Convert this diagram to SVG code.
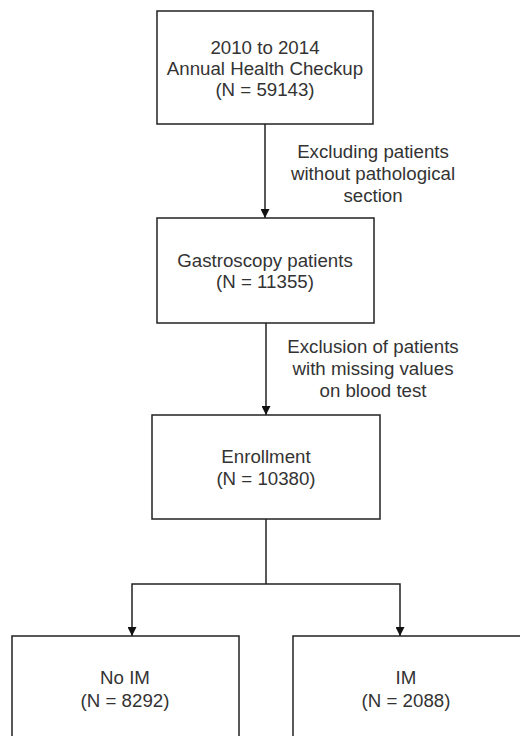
<svg xmlns="http://www.w3.org/2000/svg" width="520" height="736" viewBox="0 0 520 736">
<style>
.box{fill:#fff;stroke:#222;stroke-width:1.5}
.t{font-family:"Liberation Sans",Arial,sans-serif;font-size:18.7px;fill:#333;text-anchor:middle}
.c{fill:none;stroke:#222;stroke-width:1.5}
</style>
<defs>
<marker id="ah" viewBox="0 0 10 10" refX="10" refY="5" markerWidth="9" markerHeight="9" markerUnits="userSpaceOnUse" orient="auto">
<path d="M0,0 L10,5 L0,10 Z" fill="#111"/>
</marker>
</defs>
<rect width="520" height="736" fill="#fff"/>
<g id="connectors">
<line class="c" x1="265" y1="124" x2="265" y2="218" marker-end="url(#ah)"/>
<line class="c" x1="266" y1="323" x2="266" y2="415" marker-end="url(#ah)"/>
<polyline class="c" points="266,519 266,584"/>
<polyline class="c" points="266,584 132,584 132,636" marker-end="url(#ah)"/>
<polyline class="c" points="266,584 400,584 400,636" marker-end="url(#ah)"/>
<text class="t" x="373" y="158">Excluding patients</text>
<text class="t" x="373" y="180">without pathological</text>
<text class="t" x="373" y="202">section</text>
<text class="t" x="373" y="353">Exclusion of patients</text>
<text class="t" x="373" y="375">with missing values</text>
<text class="t" x="373" y="397">on blood test</text>
</g>
<g id="checkup">
<rect class="box" x="157" y="11" width="216" height="113"/>
<text class="t" x="265" y="54">2010 to 2014</text>
<text class="t" x="265" y="75">Annual Health Checkup</text>
<text class="t" x="265" y="96">(N = 59143)</text>
</g>
<g id="gastroscopy">
<rect class="box" x="157" y="218" width="217" height="105"/>
<text class="t" x="265" y="267">Gastroscopy patients</text>
<text class="t" x="265" y="288">(N = 11355)</text>
</g>
<g id="enrollment">
<rect class="box" x="152" y="415" width="228" height="104"/>
<text class="t" x="266" y="463">Enrollment</text>
<text class="t" x="266" y="485">(N = 10380)</text>
</g>
<g id="noim">
<rect class="box" x="12" y="636" width="227" height="110"/>
<text class="t" x="125" y="684">No IM</text>
<text class="t" x="125" y="707">(N = 8292)</text>
</g>
<g id="im">
<rect class="box" x="293" y="636" width="230" height="110"/>
<text class="t" x="406" y="684">IM</text>
<text class="t" x="406" y="707">(N = 2088)</text>
</g>
</svg>
